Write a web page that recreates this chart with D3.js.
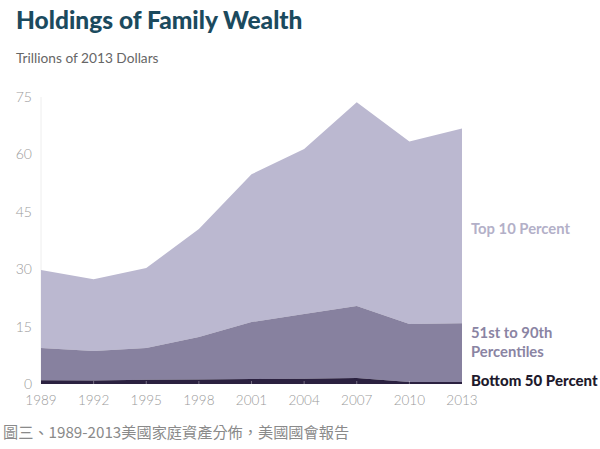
<!DOCTYPE html>
<html><head><meta charset="utf-8">
<script src="https://cdn.jsdelivr.net/npm/d3@7"></script>
<style>body{margin:0;background:#fff}svg{display:block}</style>
</head><body>
<svg id="c" width="600" height="449"></svg>
<script>
const years = [1989,1992,1995,1998,2001,2004,2007,2010,2013];
const bottom50 = [1.0,0.9,1.1,1.2,1.3,1.4,1.6,0.5,0.5];
const mid51to90 = [8.4,7.7,8.3,11.1,14.9,16.9,18.8,15.2,15.4];
const top10 = [20.4,18.8,20.9,28.2,38.6,43.1,53.2,47.7,50.9];
const yTicks = [0,15,30,45,60,75];
const seriesNames = ["Bottom 50 Percent","51st to 90th Percentiles","Top 10 Percent"];

const svg = d3.select("#c");
const x = d3.scalePoint().domain(years).range([41,462]);
const y = d3.scaleLinear().domain([0,75]).range([384,97]);

const rows = years.map((yr,i)=>({year:yr,b:bottom50[i],m:mid51to90[i],t:top10[i]}));
const stack = d3.stack().keys(["b","m","t"])(rows);
const colors = ["#2b2140","#87819f","#bbb8d0"];

// faint left axis line
svg.append("line").attr("x1",41).attr("x2",41).attr("y1",y(75)).attr("y2",y(0)).attr("stroke","#eeeeee");

const area = d3.area().x(d=>x(d.data.year)).y0(d=>y(d[0])).y1(d=>y(d[1]));
svg.selectAll("path.a").data(stack.slice().reverse()).enter().append("path")
  .attr("d",area).attr("fill",(d)=>colors[d.index]);

// small ticks on baseline
svg.selectAll("line.t").data(years.slice(1,-1)).enter().append("line")
  .attr("x1",d=>x(d)).attr("x2",d=>x(d)).attr("y1",y(0)-3).attr("y2",y(0)).attr("stroke","#ffffff").attr("stroke-opacity",0.35);

const font = "Lato, 'Open Sans', sans-serif";
svg.selectAll("text.y").data(yTicks).enter().append("text")
  .attr("x",32).attr("y",d=>y(d)+5).attr("text-anchor","end")
  .attr("font-family",font).attr("font-weight",300).attr("font-size",14).attr("fill","#9a9a9a").text(d=>d);
svg.selectAll("text.x").data(years).enter().append("text")
  .attr("x",d=>x(d)).attr("y",405).attr("text-anchor","middle")
  .attr("font-family",font).attr("font-weight",300).attr("font-size",13.5).attr("fill","#9a9a9a").text(d=>d);

svg.append("text").attr("x",16).attr("y",29).attr("font-family",font).attr("font-weight",900)
  .attr("font-size",24.5).attr("fill","#1b4a5e").text("Holdings of Family Wealth");
svg.append("text").attr("x",16).attr("y",63).attr("font-family",font)
  .attr("font-size",13.7).attr("fill","#666").text("Trillions of 2013 Dollars");

const lx = 471;
svg.append("text").attr("x",lx).attr("y",234).attr("font-family",font).attr("font-weight",700)
  .attr("font-size",14.8).attr("fill","#b3b0c8").text(seriesNames[2]);
svg.append("text").attr("x",lx).attr("y",338).attr("font-family",font).attr("font-weight",700)
  .attr("font-size",14.8).attr("fill","#8a84a3").text("51st to 90th");
svg.append("text").attr("x",lx).attr("y",357).attr("font-family",font).attr("font-weight",700)
  .attr("font-size",14.8).attr("fill","#8a84a3").text("Percentiles");
svg.append("text").attr("x",lx).attr("y",386).attr("font-family",font).attr("font-weight",900)
  .attr("font-size",15).attr("fill","#1e1a2c").text(seriesNames[0]);

svg.append("text").attr("x",3).attr("y",438).attr("font-family","'Noto Sans CJK TC', sans-serif")
  .attr("font-size",15.2).attr("fill","#8a8a8a").text("圖三、1989-2013美國家庭資產分佈，美國國會報告");
</script>
</body></html>
